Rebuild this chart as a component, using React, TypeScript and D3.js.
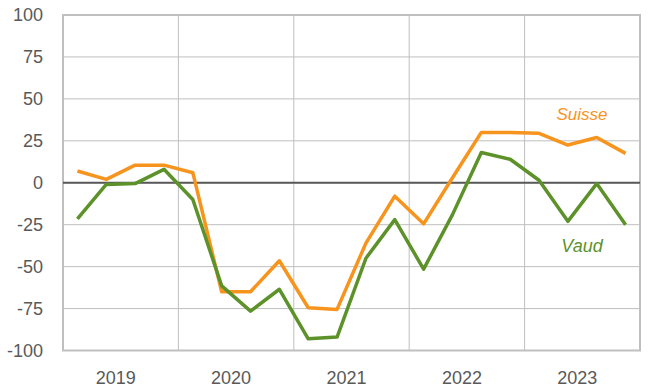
import React from "react";
import * as d3 from "d3";

const years = ["2019", "2020", "2021", "2022", "2023"];
const suisse = [7, 2, 10.5, 10.5, 6, -65, -65, -46.5, -74.5, -75.5, -36, -8, -24.5, 3, 30, 30, 29.5, 22.5, 27, 17.5];
const vaud = [-21.5, -1, -0.5, 8, -10, -61.5, -76.5, -63.5, -93, -92, -45, -22, -51.5, -19, 18, 14, 1.5, -23, -0.5, -25];
const yTicks = [100, 75, 50, 25, 0, -25, -50, -75, -100];

export default function App() {
  const W = 659, H = 392;
  const left = 63, right = 640, top = 15, bottom = 350.5;
  const x = d3.scaleLinear().domain([0, 20]).range([left, right]);
  const y = d3.scaleLinear().domain([-100, 100]).range([bottom, top]);
  const line = d3.line<number>().x((_, i) => x(i + 0.5)).y((d) => y(d));
  const font = "'Liberation Sans', Arial, sans-serif";
  return (
    <svg width={W} height={H} style={{ position: "absolute", left: 0, top: 0 }}>
      <rect width={W} height={H} fill="#fff" />
      {yTicks.map((t) => (
        <line key={"h" + t} x1={left} x2={right} y1={y(t)} y2={y(t)} stroke="#bfbfbf" strokeWidth={1} />
      ))}
      {years.map((_, i) => (
        <line key={"v" + i} x1={x(i * 4)} x2={x(i * 4)} y1={top} y2={bottom} stroke="#bfbfbf" strokeWidth={1} />
      ))}
      <rect x={left} y={top} width={right - left} height={bottom - top} fill="none" stroke="#bfbfbf" strokeWidth={2} />
      <line x1={left} x2={right} y1={y(0)} y2={y(0)} stroke="#595959" strokeWidth={2} />
      {yTicks.map((t) => (
        <text key={"t" + t} x={43} y={y(t)} dy="0.35em" textAnchor="end" fontFamily={font} fontSize={18} fill="#595959">
          {t}
        </text>
      ))}
      {years.map((yr, i) => (
        <text key={yr} x={x(i * 4 + 2) - 5} y={383.5} textAnchor="middle" fontFamily={font} fontSize={18} fill="#595959">
          {yr}
        </text>
      ))}
      <path d={line(suisse) || ""} fill="none" stroke="#f7941d" strokeWidth={3.5} strokeLinejoin="round" />
      <path d={line(vaud) || ""} fill="none" stroke="#5c9229" strokeWidth={3.5} strokeLinejoin="round" />
      <text x={582} y={119.5} textAnchor="middle" fontFamily={font} fontStyle="italic" fontSize={17} fill="#f7941d">
        Suisse
      </text>
      <text x={582} y={251.5} textAnchor="middle" fontFamily={font} fontStyle="italic" fontSize={18} fill="#5c9229">
        Vaud
      </text>
    </svg>
  );
}
